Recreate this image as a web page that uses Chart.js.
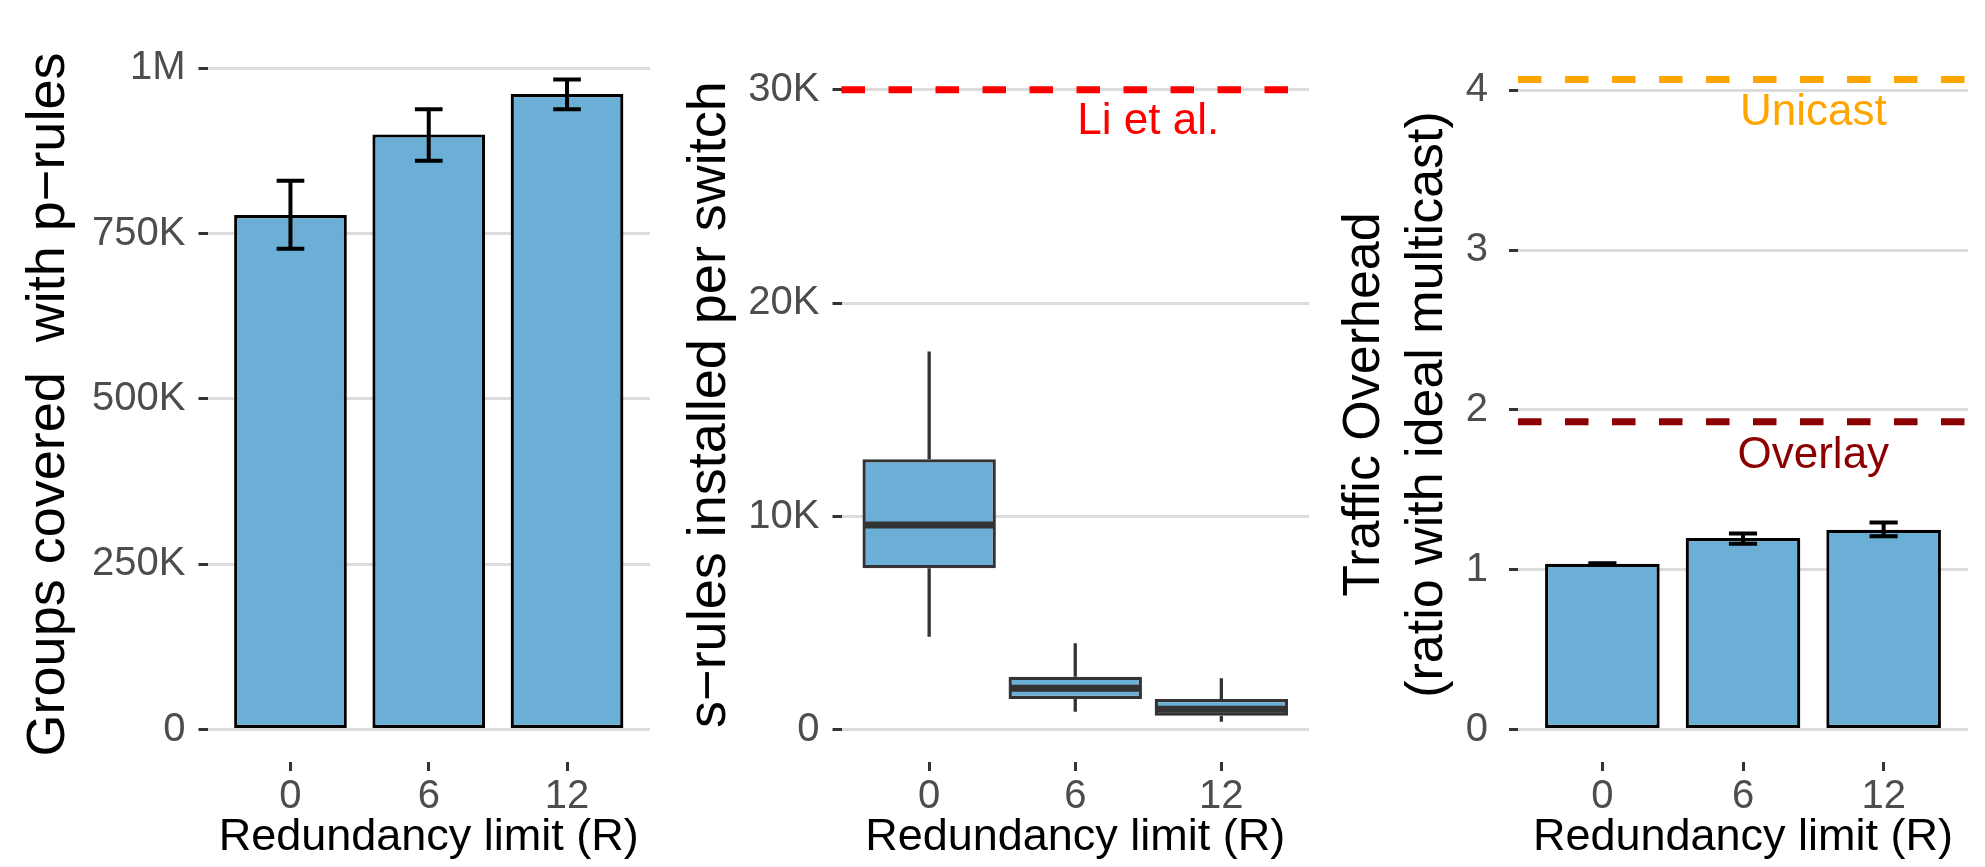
<!DOCTYPE html>
<html><head><meta charset="utf-8">
<script src="https://cdn.jsdelivr.net/npm/chart.js@4.4.1/dist/chart.umd.min.js"></script>
<style>
html,body{margin:0;padding:0;background:#fff;width:1985px;height:867px;overflow:hidden;}
canvas{position:absolute;top:0;}
</style></head><body>
<canvas id="c1" width="670" height="867" style="left:0px;width:670px;height:867px"></canvas>
<canvas id="c2" width="660" height="867" style="left:670px;width:660px;height:867px"></canvas>
<canvas id="c3" width="655" height="867" style="left:1330px;width:655px;height:867px"></canvas>
<script>
// ---------- data ----------
const categories = ['0', '6', '12'];

const groupsCovered     = [778000, 900000, 961000];
const groupsCoveredLow  = [727000, 860000, 938000];
const groupsCoveredHigh = [830000, 938000, 983000];
const groupsTicks       = [0, 250000, 500000, 750000, 1000000];
const groupsTickLabels  = ['0', '250K', '500K', '750K', '1M'];

const sRulesMin    = [4370, 860, 390];
const sRulesQ1     = [7580, 1450, 670];
const sRulesMedian = [9610, 1950, 970];
const sRulesQ3     = [12690, 2500, 1450];
const sRulesMax    = [17730, 4060, 2420];
const sRulesTicks      = [0, 10000, 20000, 30000];
const sRulesTickLabels = ['0', '10K', '20K', '30K'];
const liEtAl = 30000;
const liEtAlLabel = 'Li et al.';
const liEtAlLabelPos = [1.5, 28470];

const trafficOverhead = [1.037, 1.198, 1.250];
const trafficLow      = [1.031, 1.162, 1.209];
const trafficHigh     = [1.041, 1.226, 1.295];
const trafficTicks      = [0, 1, 2, 3, 4];
const trafficTickLabels = ['0', '1', '2', '3', '4'];
const unicastOverhead = 4.067;
const overlayOverhead = 1.926;
const unicastLabel = 'Unicast';
const overlayLabel = 'Overlay';
const unicastLabelPos = [1.5, 3.858];
const overlayLabelPos = [1.5, 1.714];

// ---------- style ----------
const FONT = '"Liberation Sans", Arial, Helvetica, sans-serif';
Chart.defaults.font.family = FONT;
const BAR_FILL = '#6BAED6';
const GRID = '#dcdcdc';
const TICK_MARK = '#333333';
const TICK_TEXT = '#4d4d4d';

function xAxis(height) {
  return {
    type: 'linear', min: -0.6, max: 2.6, offset: false,
    afterBuildTicks: ax => { ax.ticks = categories.map((c, i) => ({ value: i })); },
    afterFit: ax => { ax.height = height; },
    ticks: { callback: v => categories[v], color: TICK_TEXT, font: { size: 40, lineHeight: 1 }, padding: 6, maxRotation: 0, autoSkip: false },
    grid: { offset: false, drawOnChartArea: false, drawTicks: true, tickLength: 9, tickColor: TICK_MARK, tickWidth: 3 },
    border: { display: false },
    title: { display: true, text: 'Redundancy limit (R)', color: '#000', font: { size: 45, lineHeight: 1 }, padding: { top: 0, bottom: 7 } }
  };
}
function yAxis(o) {
  return {
    type: 'linear', min: o.min, max: o.max,
    afterBuildTicks: ax => { ax.ticks = o.ticks.map(v => ({ value: v })); },
    afterFit: ax => { ax.width = o.width; },
    ticks: { callback: v => o.labels[o.ticks.indexOf(v)], color: TICK_TEXT, font: { size: 40, lineHeight: 1 }, padding: o.tickPad },
    grid: { color: GRID, lineWidth: 3, drawTicks: true, tickLength: 9, tickColor: TICK_MARK, tickWidth: 3 },
    border: { display: false },
    title: { display: true, text: o.title, color: '#000', font: { size: o.titleSize, lineHeight: o.titleLH }, padding: { top: o.titlePad, bottom: 0 } }
  };
}
function baseOptions(padRight, scales) {
  return {
    responsive: false, animation: false, devicePixelRatio: 1,
    layout: { padding: { left: 0, right: padRight, top: 47, bottom: 0 } },
    plugins: { legend: { display: false }, tooltip: { enabled: false } },
    scales
  };
}
function errorBars(lows, highs) {
  return {
    id: 'errbars',
    afterDatasetsDraw(chart) {
      const { ctx, scales: { x, y } } = chart;
      ctx.save();
      ctx.strokeStyle = '#000'; ctx.lineWidth = 4;
      lows.forEach((lo, i) => {
        const cx = x.getPixelForValue(i);
        const hw = x.getPixelForValue(i + 0.1) - cx;
        const yl = y.getPixelForValue(lo), yh = y.getPixelForValue(highs[i]);
        ctx.beginPath();
        ctx.moveTo(cx, yl); ctx.lineTo(cx, yh);
        ctx.moveTo(cx - hw, yl); ctx.lineTo(cx + hw, yl);
        ctx.moveTo(cx - hw, yh); ctx.lineTo(cx + hw, yh);
        ctx.stroke();
      });
      ctx.restore();
    }
  };
}
function refLines(lines) {
  return {
    id: 'reflines',
    afterDatasetsDraw(chart) {
      const { ctx, chartArea, scales: { x, y } } = chart;
      ctx.save();
      lines.forEach(l => {
        const py = y.getPixelForValue(l.value);
        ctx.setLineDash([23.5, 23.5]);
        ctx.strokeStyle = l.color; ctx.lineWidth = 7;
        ctx.beginPath(); ctx.moveTo(chartArea.left, py); ctx.lineTo(chartArea.right, py); ctx.stroke();
        ctx.setLineDash([]);
        ctx.fillStyle = l.color;
        ctx.font = '44px ' + FONT;
        ctx.textAlign = 'center'; ctx.textBaseline = 'middle';
        ctx.fillText(l.label, x.getPixelForValue(l.labelPos[0]), y.getPixelForValue(l.labelPos[1]));
      });
      ctx.restore();
    }
  };
}

// ---------- panel 1 ----------
new Chart(document.getElementById('c1'), {
  type: 'bar',
  data: { datasets: [{
    data: categories.map((c, i) => ({ x: i, y: groupsCovered[i] })),
    backgroundColor: BAR_FILL, borderColor: '#000', borderWidth: 3.2, borderSkipped: false,
    categoryPercentage: 1, barPercentage: 0.815
  }] },
  options: baseOptions(20, {
    x: xAxis(105),
    y: yAxis({ min: -49150, max: 1032150, ticks: groupsTicks, labels: groupsTickLabels, width: 207.5, tickPad: 13,
               title: 'Groups covered  with p\u2212rules', titleSize: 54, titleLH: 1, titlePad: 22.5 })
  }),
  plugins: [errorBars(groupsCoveredLow, groupsCoveredHigh)]
});

// ---------- panel 2 ----------
const boxPlugin = {
  id: 'boxparts',
  beforeDatasetsDraw(chart) {
    const { ctx, scales: { x, y } } = chart;
    ctx.save();
    ctx.strokeStyle = '#333333'; ctx.lineWidth = 3.3;
    categories.forEach((c, i) => {
      const cx = x.getPixelForValue(i);
      ctx.beginPath();
      ctx.moveTo(cx, y.getPixelForValue(sRulesQ3[i])); ctx.lineTo(cx, y.getPixelForValue(sRulesMax[i]));
      ctx.moveTo(cx, y.getPixelForValue(sRulesQ1[i])); ctx.lineTo(cx, y.getPixelForValue(sRulesMin[i]));
      ctx.stroke();
    });
    ctx.restore();
  },
  afterDatasetsDraw(chart) {
    const { ctx, scales: { y } } = chart;
    const meta = chart.getDatasetMeta(0);
    ctx.save();
    ctx.strokeStyle = '#333333'; ctx.lineWidth = 7;
    meta.data.forEach((bar, i) => {
      const hw = bar.width / 2 - 1.5;
      const py = y.getPixelForValue(sRulesMedian[i]);
      ctx.beginPath(); ctx.moveTo(bar.x - hw, py); ctx.lineTo(bar.x + hw, py); ctx.stroke();
    });
    ctx.restore();
  }
};
new Chart(document.getElementById('c2'), {
  type: 'bar',
  data: { datasets: [{
    data: categories.map((c, i) => ({ x: i, y: [sRulesQ1[i], sRulesQ3[i]] })),
    backgroundColor: BAR_FILL, borderColor: '#333333', borderWidth: 3.3, borderSkipped: false,
    categoryPercentage: 1, barPercentage: 0.913
  }] },
  options: baseOptions(21, {
    x: xAxis(105),
    y: yAxis({ min: -1500, max: 32000, ticks: sRulesTicks, labels: sRulesTickLabels, width: 171.5, tickPad: 13,
               title: 's\u2212rules installed per switch', titleSize: 54, titleLH: 1, titlePad: 13.3 })
  }),
  plugins: [boxPlugin, refLines([{ value: liEtAl, color: '#FF0000', label: liEtAlLabel, labelPos: liEtAlLabelPos }])]
});

// ---------- panel 3 ----------
new Chart(document.getElementById('c3'), {
  type: 'bar',
  data: { datasets: [{
    data: categories.map((c, i) => ({ x: i, y: trafficOverhead[i] })),
    backgroundColor: BAR_FILL, borderColor: '#000', borderWidth: 3.2, borderSkipped: false,
    categoryPercentage: 1, barPercentage: 0.815
  }] },
  options: baseOptions(17, {
    x: xAxis(105),
    y: yAxis({ min: -0.2033, max: 4.2703, ticks: trafficTicks, labels: trafficTickLabels, width: 188, tickPad: 21,
               title: ['Traffic Overhead', '(ratio with ideal multicast)'], titleSize: 52, titleLH: 1.21, titlePad: 3.6 })
  }),
  plugins: [errorBars(trafficLow, trafficHigh), refLines([
    { value: unicastOverhead, color: '#FFA500', label: unicastLabel, labelPos: unicastLabelPos },
    { value: overlayOverhead, color: '#8B0000', label: overlayLabel, labelPos: overlayLabelPos }
  ])]
});
</script>
</body></html>
